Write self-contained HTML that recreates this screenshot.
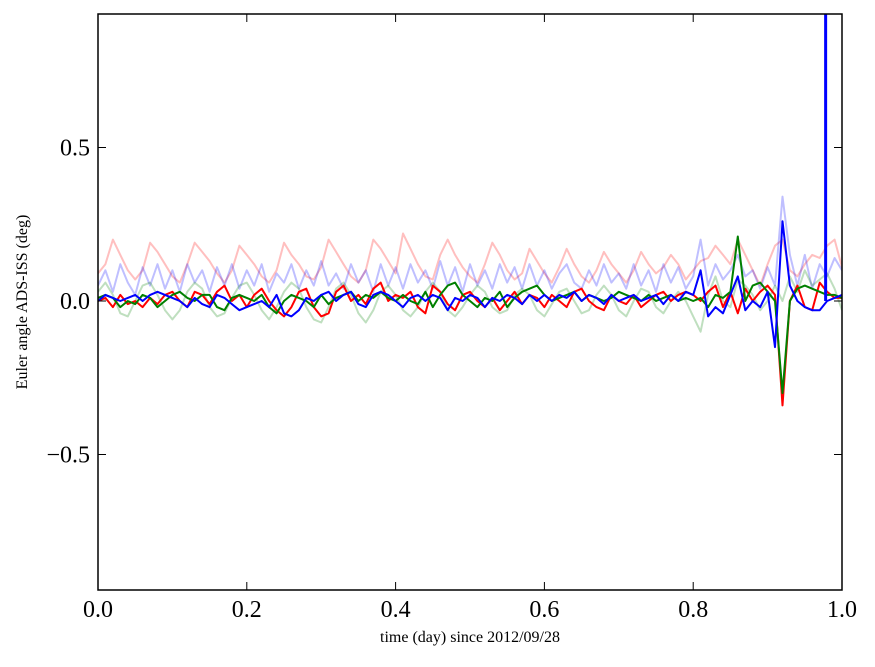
<!DOCTYPE html>
<html><head><meta charset="utf-8"><style>
body{margin:0;background:#fff;}
svg text{font-family:"Liberation Serif",serif;fill:#000;}
</style></head><body>
<svg id="chart" width="875" height="662" xmlns="http://www.w3.org/2000/svg">
<defs><clipPath id="clip"><rect x="98" y="14" width="744" height="576"/></clipPath></defs>
<rect x="0" y="0" width="875" height="662" fill="#fff"/>
<g id="series" clip-path="url(#clip)"></g>
<rect x="98" y="14" width="744" height="576" fill="none" stroke="#000" stroke-width="1.5"/>
<g id="axes"></g>
<text x="470" y="642" font-size="16" text-anchor="middle">time (day) since 2012/09/28</text>
<text transform="translate(27,302) rotate(-90)" font-size="16" text-anchor="middle">Euler angle ADS-ISS (deg)</text>
</svg>
<script>
const xTicks=[0,0.2,0.4,0.6,0.8,1.0];
const xTickLabels=["0.0","0.2","0.4","0.6","0.8","1.0"];
const yTicks=[0.5,0,-0.5];
const yTickLabels=["0.5","0.0","\u22120.5"];
const lightRed=[0.09,0.12,0.2,0.15,0.1,0.07,0.1,0.19,0.16,0.12,0.08,0.06,0.12,0.19,0.16,0.13,0.09,0.06,0.1,0.18,0.15,0.12,0.08,0.06,0.1,0.19,0.15,0.12,0.08,0.07,0.11,0.2,0.16,0.12,0.08,0.06,0.1,0.2,0.17,0.13,0.09,0.22,0.17,0.12,0.08,0.07,0.15,0.2,0.15,0.11,0.08,0.06,0.12,0.19,0.15,0.1,0.07,0.09,0.17,0.13,0.09,0.06,0.11,0.17,0.12,0.08,0.06,0.1,0.16,0.12,0.09,0.06,0.1,0.16,0.12,0.09,0.11,0.15,0.12,0.07,0.1,0.13,0.14,0.18,0.15,0.12,0.2,0.15,0.1,0.05,0.12,0.18,0.2,0.1,0.08,0.12,0.15,0.14,0.18,0.2,0.11];
const lightBlue=[0.05,0.1,0.03,0.12,0.06,0.02,0.11,0.05,0.12,0.04,0.1,0.03,0.12,0.06,0.1,0.03,0.11,0.05,0.12,0.04,0.1,0.05,0.12,0.03,0.09,0.06,0.12,0.04,0.1,0.05,0.13,0.05,0.09,0.04,0.12,0.06,0.1,0.03,0.12,0.05,0.11,0.04,0.12,0.06,0.1,0.04,0.13,0.05,0.11,0.03,0.12,0.05,0.1,0.04,0.12,0.06,0.11,0.04,0.12,0.05,0.1,0.04,0.09,0.12,0.06,0.04,0.1,0.05,0.12,0.06,0.09,0.04,0.12,0.05,0.1,0.03,0.12,0.06,0.11,0.04,0.08,0.2,0.05,0.12,0.07,0.1,0.15,0.08,0.1,0.04,0.11,0.05,0.34,0.15,0.05,0.15,0.04,0.12,0.08,0.14,0.1];
const lightGreen=[0.03,0.06,0.02,-0.04,-0.05,0.0,0.05,0.06,0.02,-0.03,-0.06,-0.03,0.03,0.06,0.04,-0.02,-0.05,-0.04,0.01,0.05,0.06,0.02,-0.03,-0.06,-0.02,0.03,0.06,0.04,-0.02,-0.06,-0.07,-0.02,0.04,0.06,0.02,-0.04,-0.07,-0.03,0.03,0.05,0.02,-0.03,-0.05,-0.02,0.03,0.06,0.03,-0.03,-0.05,-0.02,0.02,0.05,0.03,-0.02,-0.04,-0.03,0.02,0.04,0.02,-0.03,-0.05,-0.01,0.03,0.04,0.0,-0.04,-0.03,0.02,0.05,0.02,-0.03,-0.05,0.0,0.04,0.03,-0.02,-0.04,0.0,0.03,0.0,-0.05,-0.1,0.02,0.08,0.0,-0.02,0.07,0.05,0.02,-0.03,0.0,0.05,0.0,0.08,0.03,0.1,0.05,0.07,0.09,0.04,-0.03];
const redVals=[0.0,0.01,-0.02,0.02,-0.01,0.0,-0.02,0.01,-0.01,0.02,0.03,0.0,-0.02,0.03,0.02,-0.01,0.03,0.05,0.0,0.02,-0.02,0.02,0.04,0.0,-0.03,-0.05,-0.02,0.03,0.04,-0.02,-0.05,-0.04,0.03,0.05,0.0,0.02,-0.01,0.04,0.06,0.0,0.02,0.01,0.03,-0.02,-0.04,0.05,0.03,-0.01,-0.03,0.02,0.03,0.0,-0.02,0.01,-0.03,0.0,0.03,-0.01,0.02,0.01,-0.02,0.02,0.0,-0.02,0.03,0.04,0.0,-0.02,-0.03,0.02,0.0,-0.01,0.02,-0.02,0.0,0.02,0.03,0.0,0.02,0.03,0.02,0.0,0.03,0.05,-0.02,0.03,-0.04,0.04,0.0,0.03,0.05,0.02,-0.34,0.0,0.05,-0.02,-0.03,0.06,0.03,0.01,0.01];
const greenVals=[0.01,0.02,0.01,-0.02,0.0,-0.01,0.02,0.01,-0.02,0.0,0.02,0.03,0.01,0.0,0.02,0.02,-0.02,-0.03,0.01,0.02,0.01,0.0,0.02,-0.02,-0.04,0.0,0.02,0.01,0.0,-0.02,0.02,-0.01,0.01,0.02,0.03,0.0,0.02,0.01,0.03,0.01,0.0,0.02,0.0,-0.01,0.03,-0.02,0.02,0.05,0.06,0.02,0.0,-0.02,0.01,0.0,0.03,-0.02,0.01,0.03,0.04,0.05,0.02,0.0,0.01,0.02,0.03,0.0,0.02,0.01,0.0,0.01,0.03,0.02,0.01,0.0,0.02,0.0,0.01,0.02,0.0,0.01,0.0,0.01,-0.02,0.02,0.01,0.03,0.21,0.0,0.05,0.06,0.03,0.0,-0.3,0.0,0.04,0.05,0.04,0.03,0.02,0.02,0.01];
const blueVals=[0.0,0.02,0.01,0.0,0.01,0.02,0.0,0.02,0.03,0.02,0.01,0.0,-0.02,0.01,-0.01,-0.02,0.02,0.01,-0.01,-0.03,-0.02,-0.01,0.0,-0.02,0.02,-0.04,-0.05,-0.03,0.01,0.0,0.02,0.03,0.0,0.02,0.03,-0.01,-0.02,0.02,0.03,0.02,0.0,-0.02,0.01,0.02,0.0,0.02,0.01,-0.03,0.01,0.0,0.02,0.01,-0.02,0.01,0.0,0.02,0.01,-0.01,0.02,0.0,0.02,0.0,0.02,0.01,0.03,0.0,0.02,0.01,-0.01,0.02,0.0,0.01,0.02,0.0,0.01,0.02,-0.01,0.02,0.0,0.03,0.02,0.1,-0.05,-0.02,-0.04,0.02,0.08,-0.03,0.0,-0.02,0.03,-0.15,0.26,0.05,0.0,-0.02,-0.03,-0.03,0.0,0.01,0.02];
const blueSpikeTime=[0.978];
const blueSpikeValue=[1.2];
const X0=98,X1=842,Y0=301,YS=307;
const xs=v=>X0+v*(X1-X0);
const ys=v=>Y0-v*YS;
const NS="http://www.w3.org/2000/svg";
const g=document.getElementById('series');
function line(vals,color,op,name){
  const pts=vals.map((v,i)=>xs(i/(vals.length-1)).toFixed(1)+","+ys(v).toFixed(1)).join(" ");
  const p=document.createElementNS(NS,'polyline');
  p.setAttribute('points',pts);p.setAttribute('fill','none');p.setAttribute('stroke',color);
  p.setAttribute('stroke-width','2');p.setAttribute('stroke-opacity',op);p.setAttribute('stroke-linejoin','round');
  
  
  g.appendChild(p);
}
line(lightRed,'#ff0000',0.25,'series-light-red');
line(lightBlue,'#0000ff',0.25,'series-light-blue');
line(lightGreen,'#008000',0.25,'series-light-green');
line(redVals,'#ff0000',1,'series-red');
line(greenVals,'#008000',1,'series-green');
line(blueVals,'#0000ff',1,'series-blue');
blueSpikeTime.forEach((t,i)=>{
  const s=document.createElementNS(NS,'line');
  s.setAttribute('x1',xs(t));s.setAttribute('x2',xs(t));
  s.setAttribute('y1',ys(0.0));s.setAttribute('y2',ys(blueSpikeValue[i]));
  s.setAttribute('stroke','#0000ff');s.setAttribute('stroke-width','3');
  
  
  g.appendChild(s);
});
const ax=document.getElementById('axes');
function mk(tag,attrs){const e=document.createElementNS(NS,tag);for(const k in attrs)e.setAttribute(k,attrs[k]);ax.appendChild(e);return e;}
xTicks.forEach((t,i)=>{
  const x=xs(t);
  const a=mk('line',{x1:x,x2:x,y1:590,y2:582,stroke:'#000'});
  
  
  const b=mk('line',{x1:x,x2:x,y1:14,y2:22,stroke:'#000'});
  
  
  const tx=mk('text',{x:x,y:617,'font-size':24,'text-anchor':'middle'});
  tx.textContent=xTickLabels[i];
  
  
});
yTicks.forEach((t,i)=>{
  const y=ys(t);
  const a=mk('line',{x1:98,x2:106,y1:y,y2:y,stroke:'#000'});
  
  
  const b=mk('line',{x1:834,x2:842,y1:y,y2:y,stroke:'#000'});
  
  
  const tx=mk('text',{x:90,y:y+8,'font-size':24,'text-anchor':'end'});
  tx.textContent=yTickLabels[i];
  
  
});
</script>
</body></html>
